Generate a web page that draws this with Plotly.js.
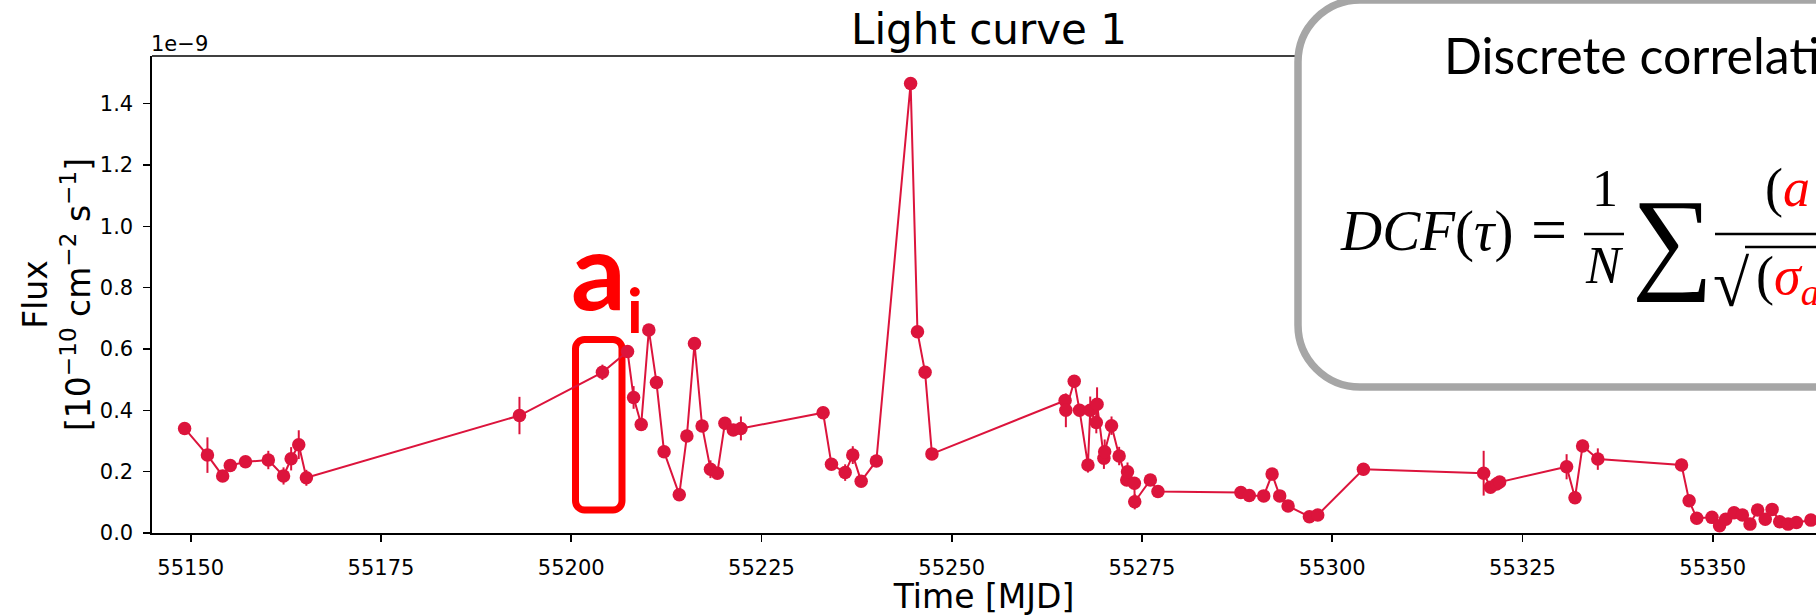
<!DOCTYPE html>
<html><head><meta charset="utf-8">
<script src="https://cdn.plot.ly/plotly-3.0.1.min.js"></script>
<style>html,body{margin:0;padding:0;background:#fff;overflow:hidden}#chart{width:1816px;height:616px}</style>
</head><body><div id="chart"></div>
<script>
// ---------------- data (flux in units of 1e-9) ----------------
const mjd = [55149.2,55152.2,55154.2,55155.2,55157.2,55160.2,55162.2,55163.2,55164.2,55165.2,
  55193.2,55204.1,55207.4,55208.2,55209.2,55210.2,55211.2,55212.2,55214.2,55215.2,
  55216.2,55217.2,55218.3,55219.2,55220.2,55221.3,55222.3,55233.1,55234.2,55236.0,
  55237.0,55238.1,55240.1,55244.6,55245.5,55246.5,55247.4,55264.9,55265.0,55266.1,
  55266.8,55267.9,55268.2,55269.0,55269.1,55270.0,55270.1,55271.0,55272.0,55273.0,
  55273.1,55274.0,55274.05,55276.1,55277.1,55288.0,55289.1,55291.0,55292.1,55293.1,
  55294.2,55297.0,55298.1,55304.1,55319.9,55320.8,55321.6,55322.0,55330.8,55331.9,
  55332.9,55334.9,55345.9,55346.9,55347.9,55349.9,55350.9,55351.7,55352.8,55353.9,
  55354.9,55355.9,55356.9,55357.8,55358.8,55359.9,55361.0,55362.9];
const flux = [0.341,0.254,0.186,0.220,0.232,0.238,0.186,0.242,0.288,0.180,
  0.383,0.524,0.592,0.442,0.354,0.662,0.491,0.265,0.125,0.316,
  0.618,0.349,0.208,0.195,0.358,0.336,0.341,0.392,0.224,0.197,
  0.254,0.169,0.235,1.466,0.656,0.524,0.258,0.432,0.400,0.495,
  0.400,0.222,0.400,0.360,0.420,0.244,0.265,0.350,0.251,0.173,
  0.200,0.162,0.102,0.173,0.135,0.132,0.122,0.121,0.192,0.121,
  0.088,0.053,0.059,0.208,0.195,0.149,0.160,0.166,0.216,0.115,
  0.284,0.241,0.222,0.105,0.048,0.051,0.024,0.045,0.066,0.059,
  0.029,0.075,0.045,0.077,0.037,0.029,0.034,0.042];
const fluxErr = [0.012,0.058,0.015,0.012,0.015,0.030,0.028,0.038,0.047,0.026,
  0.061,0.025,0.015,0.037,0.018,0.012,0.012,0.012,0.012,0.015,
  0.012,0.012,0.029,0.012,0.015,0.012,0.039,0.020,0.012,0.027,
  0.029,0.012,0.020,0.012,0.012,0.012,0.012,0.020,0.055,0.020,
  0.020,0.025,0.045,0.035,0.055,0.035,0.040,0.030,0.030,0.020,
  0.030,0.020,0.025,0.012,0.012,0.012,0.012,0.012,0.020,0.015,
  0.015,0.012,0.012,0.012,0.073,0.012,0.012,0.012,0.041,0.012,
  0.020,0.035,0.020,0.012,0.012,0.012,0.012,0.012,0.012,0.012,
  0.012,0.012,0.012,0.012,0.012,0.012,0.012,0.012];
const xTickVals = [55150,55175,55200,55225,55250,55275,55300,55325,55350];
const yTickVals = [0.0,0.2,0.4,0.6,0.8,1.0,1.2,1.4];
const xRange = [55144.915, 55363.57];
const yRange = [0, 1.5554];
const chartTitle = 'Light curve 1';
const xTitle = 'Time [MJD]';
const yTitle = 'Flux<br>[10<sup>−10</sup> cm<sup>−2</sup> s<sup>−1</sup>]';
const offsetLabel = '1e−9';
const boxTitle = 'Discrete correlation function';
const markLabel = 'a', markSub = 'i';

// ---------------- geometry helpers (pixel -> paper) ----------------
const L = 152, R = 1816, T = 56, B = 533, W = R - L, H = B - T;
const px = X => (X - L) / W;
const py = Y => (B - Y) / H;
const P = (X, Y) => px(X).toFixed(5) + ',' + py(Y).toFixed(5);
const RED = '#ff0000', CRIMSON = '#DC143C', GREY = '#a6a6a6';
const SERIF = 'Liberation Serif', SANS = 'DejaVu Sans';
const ASC = {'Liberation Serif': 0.891, 'DejaVu Sans': 0.928, 'Lato': 0.987};

function roundRect(l, t, r, b, rad, leftOnly) {
  const k = 0.5523 * rad;
  if (leftOnly) {
    return 'M ' + P(r, t) + ' L ' + P(l + rad, t) + ' C ' + P(l + rad - k, t) + ' ' + P(l, t + rad - k) + ' ' + P(l, t + rad) +
      ' L ' + P(l, b - rad) + ' C ' + P(l, b - rad + k) + ' ' + P(l + rad - k, b) + ' ' + P(l + rad, b) + ' L ' + P(r, b) + ' Z';
  }
  return 'M ' + P(l + rad, t) + ' L ' + P(r - rad, t) + ' C ' + P(r - rad + k, t) + ' ' + P(r, t + rad - k) + ' ' + P(r, t + rad) +
    ' L ' + P(r, b - rad) + ' C ' + P(r, b - rad + k) + ' ' + P(r - rad + k, b) + ' ' + P(r - rad, b) +
    ' L ' + P(l + rad, b) + ' C ' + P(l + rad - k, b) + ' ' + P(l, b - rad + k) + ' ' + P(l, b - rad) +
    ' L ' + P(l, t + rad) + ' C ' + P(l, t + rad - k) + ' ' + P(l + rad - k, t) + ' ' + P(l + rad, t) + ' Z';
}
function hline(x0, x1, y, w, color, layer) {
  return {type: 'line', xref: 'paper', yref: 'paper', x0: px(x0), x1: px(x1), y0: py(y), y1: py(y),
    line: {color: color, width: w}, layer: layer || 'above'};
}
// text annotation placed by baseline
function txt(text, X, baseline, family, size, anchor, color) {
  return {text: text, xref: 'paper', yref: 'paper', x: px(X), y: py(baseline - ASC[family] * size),
    xanchor: anchor || 'left', yanchor: 'top', showarrow: false, borderpad: 0, borderwidth: 0,
    font: {family: family, size: size, color: color || '#000'}};
}

const trace = {
  x: mjd, y: flux, type: 'scatter', mode: 'lines+markers',
  line: {color: CRIMSON, width: 2},
  marker: {color: CRIMSON, size: 13.5},
  error_y: {type: 'data', array: fluxErr, visible: true, color: CRIMSON, thickness: 2, width: 0},
  cliponaxis: true, hoverinfo: 'x+y'
};

const shapes = [
  hline(L, 1298, T, 1.6, '#000', 'below'),
  {type: 'path', xref: 'paper', yref: 'paper', path: roundRect(575.5, 339.5, 622, 510, 9, false),
    line: {color: RED, width: 7}, fillcolor: 'rgba(0,0,0,0)', layer: 'below'},
  {type: 'path', xref: 'paper', yref: 'paper', path: roundRect(1298, 0, 1920, 387, 62, true),
    line: {color: GREY, width: 7.5}, fillcolor: '#ffffff', layer: 'above'},
  hline(1584, 1624, 234, 2.6, '#000'),
  hline(1715, 1840, 234, 2.6, '#000'),
  hline(1745, 1840, 247, 2.6, '#000')
];

const annotations = [
  txt(offsetLabel, 151, 51.7, SANS, 21, 'left'),
  txt(boxTitle, 1444, 74, 'Lato', 50, 'left'),
  txt('<i>DCF</i>(<i>τ</i>)', 1340, 250, SERIF, 57, 'left'),
  txt('=', 1549, 251, SERIF, 64, 'center'),
  txt('1', 1605, 206, SERIF, 52, 'center'),
  txt('<i>N</i>', 1604.5, 283, SERIF, 52, 'center'),
  txt('∑', 1672, 278, SERIF, 114, 'center'),
  txt('(<span style="color:#ff0000"><i>a</i></span>', 1765, 206, SERIF, 54, 'left'),
  txt('√', 1713, 306, SERIF, 66, 'left'),
  txt('(<span style="color:#ff0000"><i>σ<sub>a</sub></i></span>', 1756, 294, SERIF, 54, 'left'),
  txt('<b>' + markLabel + '</b>', 571, 309.3, 'Lato', 108, 'left', RED),
  txt('<b>' + markSub + '</b>', 627, 332.7, 'Lato', 62, 'left', RED)
];

const axisCommon = {
  showgrid: false, zeroline: false, showline: true, linecolor: '#000', linewidth: 1.6,
  ticks: 'outside', ticklen: 7, tickwidth: 1.6, tickcolor: '#000',
  tickfont: {family: SANS, size: 21, color: '#000'}, automargin: false
};

const layout = {
  width: 1816, height: 616,
  margin: {l: L, r: 0, t: T, b: 616 - B, pad: 0},
  paper_bgcolor: '#fff', plot_bgcolor: '#fff', showlegend: false,
  title: {text: chartTitle, font: {family: SANS, size: 42, color: '#000'},
    xref: 'container', yref: 'container', x: 989 / 1816, xanchor: 'center', y: 1 - 29.3 / 616, yanchor: 'middle'},
  xaxis: Object.assign({}, axisCommon, {range: xRange, tickvals: xTickVals, tickformat: 'd', ticklabelstandoff: 8,
    title: {text: xTitle, font: {family: SANS, size: 33, color: '#000'}, standoff: 5}}),
  yaxis: Object.assign({}, axisCommon, {range: yRange, tickvals: yTickVals, tickformat: '.1f', ticklabelstandoff: 6,
    title: {text: yTitle, font: {family: SANS, size: 33, color: '#000'}}}),
  shapes: shapes,
  annotations: annotations
};

Plotly.newPlot('chart', [trace], layout, {staticPlot: true, displayModeBar: false});
</script>
</body></html>
